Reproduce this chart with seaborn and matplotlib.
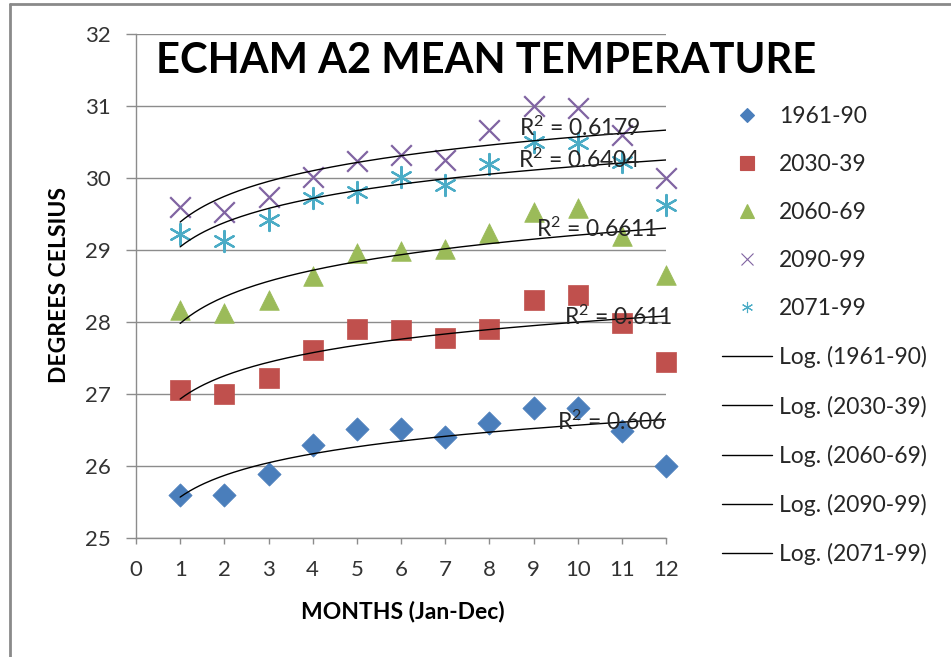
import numpy as np
import pandas as pd
import matplotlib
matplotlib.use("Agg")
import matplotlib.pyplot as plt
from matplotlib.lines import Line2D
import seaborn as sns

# ---- data ----
months = [1, 2, 3, 4, 5, 6, 7, 8, 9, 10, 11, 12]
series_names = ["1961-90", "2030-39", "2060-69", "2090-99", "2071-99"]
t_1961_90 = [25.6, 25.6, 25.89, 26.29, 26.51, 26.51, 26.4, 26.6, 26.8, 26.8, 26.49, 26.0]
t_2030_39 = [27.05, 27.0, 27.22, 27.61, 27.9, 27.89, 27.78, 27.9, 28.3, 28.37, 27.98, 27.44]
t_2060_69 = [28.17, 28.13, 28.3, 28.64, 28.96, 28.98, 29.02, 29.24, 29.53, 29.59, 29.2, 28.65]
t_2090_99 = [29.6, 29.53, 29.74, 30.02, 30.23, 30.32, 30.25, 30.67, 31.0, 30.97, 30.6, 30.0]
t_2071_99 = [29.22, 29.12, 29.42, 29.72, 29.81, 30.02, 29.9, 30.2, 30.5, 30.48, 30.22, 29.62]
r2_values = ["0.606", "0.611", "0.6611", "0.6179", "0.6404"]
x_ticks = list(range(0, 13))
y_ticks = list(range(25, 33))

values = [t_1961_90, t_2030_39, t_2060_69, t_2090_99, t_2071_99]
colors = ["#4A7EBB", "#C0504D", "#9BBB59", "#8064A2", "#4BACC6"]
markers = ["D", "s", "^", "x", (6, 2, 0)]
sizes = [140, 200, 200, 220, 230]
legend_ms = [7, 9.5, 9.5, 9, 8]
# label anchor (right edge x, centre y) in data coordinates
r2_pos = [(12.0, 26.61), (12.13, 28.07), (11.8, 29.3), (11.43, 30.69), (11.43, 30.25)]

df = pd.DataFrame({
    "month": np.tile(months, len(series_names)),
    "temp": np.concatenate(values),
    "period": np.repeat(series_names, len(months)),
})

sns.set_style("white")
plt.rcParams["font.family"] = ["Lato", "DejaVu Sans"]
plt.rcParams["mathtext.fontset"] = "custom"
plt.rcParams["mathtext.rm"] = "Lato"
plt.rcParams["mathtext.it"] = "Lato"
plt.rcParams["mathtext.default"] = "regular"

fig = plt.figure(figsize=(9.51, 6.57), dpi=100)
W, H = 951, 657
ax = fig.add_axes([136 / W, 1 - 538 / H, (666 - 136) / W, (538 - 34) / H])

grid_c = "#8C8C8C"
for yv in y_ticks:
    ax.axhline(yv, color=grid_c, lw=1.0, zorder=0)

# trend lines (logarithmic fits)
xs = np.linspace(1, 12, 200)
for name, vals in zip(series_names, values):
    a, b = np.polyfit(np.log(months), vals, 1)
    sns.lineplot(x=xs, y=a * np.log(xs) + b, ax=ax, color="black", lw=1.0, zorder=4)

for name, col, mk, sz in zip(series_names, colors, markers, sizes):
    sub = df[df["period"] == name]
    if mk == "x" or isinstance(mk, tuple):
        sns.scatterplot(data=sub, x="month", y="temp", ax=ax, marker=mk, s=sz,
                        color=col, linewidth=1.6, zorder=3, clip_on=False)
    else:
        sns.scatterplot(data=sub, x="month", y="temp", ax=ax, marker=mk, s=sz,
                        color=col, edgecolor=col, linewidth=0.5, zorder=3, clip_on=False)

for val, (tx, ty) in zip(r2_values, r2_pos):
    ax.text(tx, ty, "R$^{2}$ = " + val, ha="right", va="center", fontsize=16.5,
            color="#262626", zorder=5, clip_on=False)

ax.set_xlim(0, 12)
ax.set_ylim(25, 32)
ax.set_xticks(x_ticks)
ax.set_yticks(y_ticks)
ax.set_xlabel("")
ax.set_ylabel("")
for s in ["top", "right"]:
    ax.spines[s].set_visible(False)
for s in ["left", "bottom"]:
    ax.spines[s].set_color(grid_c)
    ax.spines[s].set_linewidth(1.0)
ax.tick_params(axis="y", length=7, width=1, color=grid_c, pad=11, labelsize=16, labelcolor="#333333", left=True)
ax.tick_params(axis="x", length=4.5, width=1, color=grid_c, pad=11, labelsize=16, labelcolor="#333333", bottom=True)
ax.set_facecolor("white")

fig.text(486 / W, 1 - 61 / H, "ECHAM A2 MEAN TEMPERATURE", ha="center", va="center",
         fontsize=30, fontweight="bold", color="black")
fig.text(60 / W, 1 - 285 / H, "DEGREES CELSIUS", rotation=90, ha="center", va="center",
         fontsize=16.5, fontweight="bold", color="black")
fig.text(403 / W, 1 - 612 / H, "MONTHS (Jan-Dec)", ha="center", va="center",
         fontsize=16.5, fontweight="bold", color="black")

handles = []
labels = []
for name, col, mk, ms in zip(series_names, colors, markers, legend_ms):
    handles.append(Line2D([], [], linestyle="none", marker=mk, color=col, markersize=ms,
                          markeredgewidth=0.8))
    labels.append(name)
for name in series_names:
    handles.append(Line2D([], [], color="black", lw=1.0))
    labels.append(f"Log. ({name})")
leg = fig.legend(handles, labels, loc="center left", bbox_to_anchor=(722 / W, 1 - 335.5 / H),
                 frameon=False, fontsize=16.5, handlelength=2.18, handletextpad=0.3,
                 labelspacing=1.18, borderpad=0, borderaxespad=0)
for t in leg.get_texts():
    t.set_color("#262626")

# chart-area border
border_c = "#8A8A8A"
fig.add_artist(Line2D([10 / W, 10 / W], [0, 1 - 4 / H], color=border_c, lw=2, transform=fig.transFigure))
fig.add_artist(Line2D([10 / W, 1], [1 - 4 / H, 1 - 4 / H], color=border_c, lw=2, transform=fig.transFigure))

fig.savefig("out.png", dpi=100, facecolor="white")
